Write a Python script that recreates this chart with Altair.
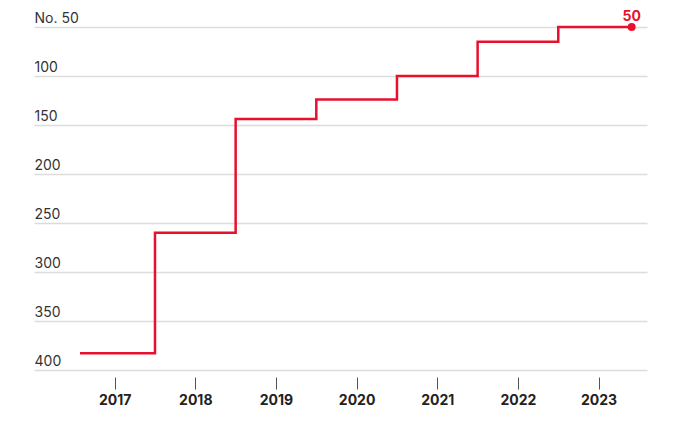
import altair as alt
import pandas as pd

years = [2017, 2018, 2019, 2020, 2021, 2022, 2023]
ranks = [383, 260, 144, 124, 100, 65, 50]
line_start = 2016.57
line_end = 2023.41
y_ticks = [50, 100, 150, 200, 250, 300, 350, 400]

RED = "#e8102c"

# step-middle line through yearly ranks, extended to start/end of the series
xs = [line_start] + years + [line_end]
ys = [ranks[0]] + ranks + [ranks[-1]]
line_df = pd.DataFrame({"x": xs, "rank": ys})
end_df = pd.DataFrame({"x": [line_end], "rank": [ranks[-1]], "label": [str(ranks[-1])]})

x_scale = alt.Scale(domain=[2016.0, 2023.6], nice=False, zero=False)
y_scale = alt.Scale(domain=[50, 400], reverse=True, nice=False, zero=False)

x_axis = alt.Axis(
    values=years, format="d", title=None, grid=False, domain=False,
    tickSize=12, tickColor="#555", tickWidth=1, offset=7,
    labelFont="Inter", labelFontSize=14, labelFontWeight="bold", labelColor="#222",
    labelPadding=4,
)
y_axis = alt.Axis(
    values=y_ticks, title=None, domain=False, ticks=False,
    grid=True, gridColor="#dcdcdc", gridWidth=1.5,
    labelAlign="left", labelPadding=0, labelBaseline="alphabetic", labelOffset=-5,
    labelFont="Inter", labelFontSize=14, labelColor="#333",
    labelExpr="datum.value == 50 ? 'No. 50' : datum.label",
)

line = alt.Chart(line_df).mark_line(
    interpolate="step", color=RED, strokeWidth=2.5
).encode(
    x=alt.X("x:Q", scale=x_scale, axis=x_axis),
    y=alt.Y("rank:Q", scale=y_scale, axis=y_axis),
)

dot = alt.Chart(end_df).mark_circle(size=64, color=RED, opacity=1).encode(
    x=alt.X("x:Q", scale=x_scale),
    y=alt.Y("rank:Q", scale=y_scale),
)

label = alt.Chart(end_df).mark_text(
    color=RED, font="Inter", fontSize=14, fontWeight="bold", dy=-6,
    align="center", baseline="alphabetic"
).encode(
    x=alt.X("x:Q", scale=x_scale),
    y=alt.Y("rank:Q", scale=y_scale),
    text="label:N",
)

chart = alt.layer(line, dot, label).properties(
    width=613, height=343,
    autosize=alt.AutoSizeParams(type="none"),
    padding={"left": 26, "top": 19, "right": 22, "bottom": 47},
).configure(background="white").configure_view(stroke=None, strokeWidth=0)

chart.save("out.html", embed_options={"renderer": "svg", "actions": False})
